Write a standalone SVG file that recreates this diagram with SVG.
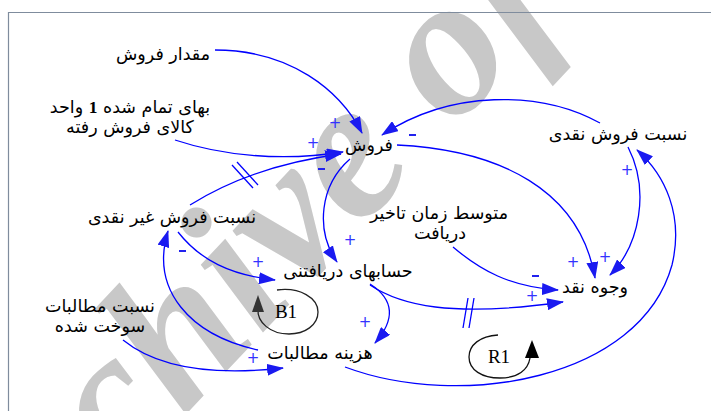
<svg xmlns="http://www.w3.org/2000/svg" width="711" height="411" viewBox="0 0 711 411">
<defs>
<style>
.lbl{font-family:"DejaVu Sans","Noto Sans",sans-serif;font-size:17.5px;fill:#000;text-anchor:middle}
.loop{font-family:"Liberation Serif",serif;font-size:19px;fill:#000;text-anchor:middle}
.c{fill:none;stroke:#0000ff;stroke-width:1.3}
.pl{font-family:"DejaVu Sans",sans-serif;font-size:15px;fill:#3333ff;text-anchor:middle}
.mn{fill:#2222ee}
.dl{stroke:#0000ff;stroke-width:1.3}
.wm{font-family:"Liberation Serif",serif;font-style:italic;font-weight:bold;fill:#c8c8c8}
</style>
<marker id="ah" viewBox="0 0 17 12" refX="16" refY="6" markerWidth="17" markerHeight="12" markerUnits="userSpaceOnUse" orient="auto">
<path d="M0,0 L17,6 L0,12 z" fill="#1a1af0"/>
</marker>
</defs>
<rect width="711" height="411" fill="#fff"/>
<g id="watermark">
<text class="wm" font-size="200" transform="translate(-22,636) rotate(-46.8)">Archive of SID</text>
</g>
<path d="M8.5,411 V12.5 H711" fill="none" stroke="#7f8c9d" stroke-width="1.2"/>
<g id="connectors">
<path class="c" marker-end="url(#ah)" d="M215,50 C290,50 340,90 362,133"/>
<path class="c" marker-end="url(#ah)" d="M175,140 C220,155 280,162 343,152"/>
<path class="c" marker-end="url(#ah)" d="M190,205 C230,180 280,162 341,154"/>
<line class="dl" x1="232" y1="165" x2="253" y2="188"/>
<line class="dl" x1="237" y1="162" x2="258" y2="185"/>
<path class="c" marker-end="url(#ah)" d="M350,159 C320,185 315,230 337,262"/>
<path class="c" marker-end="url(#ah)" d="M600,123 C540,90 450,90 382,135"/>
<path class="c" marker-end="url(#ah)" d="M397,145 C500,150 580,190 595,278"/>
<path class="c" marker-end="url(#ah)" d="M628,147 C650,190 640,245 610,275"/>
<path class="c" marker-end="url(#ah)" d="M345,367 C460,410 640,380 672,265 C684,215 665,175 637,150"/>
<path class="c" marker-end="url(#ah)" d="M370,285 C400,305 450,318 563,302"/>
<line class="dl" x1="468" y1="298" x2="463" y2="328"/>
<line class="dl" x1="474" y1="298" x2="469" y2="328"/>
<path class="c" marker-end="url(#ah)" d="M453,247 C480,270 510,287 558,290"/>
<path class="c" marker-end="url(#ah)" d="M370,284 C395,300 395,320 375,343"/>
<path class="c" marker-end="url(#ah)" d="M178,232 C200,260 230,275 275,280"/>
<path class="c" marker-end="url(#ah)" d="M258,350 C190,335 150,290 168,231"/>
<path class="c" marker-end="url(#ah)" d="M123,340 C160,370 220,375 283,368"/>
</g>
<g id="polarities">
<text class="pl" x="335" y="128">+</text>
<text class="pl" x="313" y="148">+</text>
<rect class="mn" x="318" y="168" width="7" height="2"/>
<text class="pl" x="350" y="245">+</text>
<rect class="mn" x="409" y="134" width="7" height="2"/>
<text class="pl" x="573" y="267">+</text>
<text class="pl" x="605" y="262">+</text>
<text class="pl" x="627" y="175">+</text>
<rect class="mn" x="532" y="275" width="7" height="2"/>
<text class="pl" x="532" y="301">+</text>
<text class="pl" x="365" y="327">+</text>
<rect class="mn" x="179" y="250" width="7" height="2"/>
<text class="pl" x="258" y="267">+</text>
<text class="pl" x="253" y="363">+</text>
</g>
<g id="n_meghdar"><text class="lbl" direction="rtl" x="163" y="60">مقدار فروش</text></g>
<g id="n_baha"><text class="lbl" direction="rtl" x="130" y="113">بهای تمام شده <tspan font-family="Liberation Serif" font-weight="bold">1</tspan> واحد</text>
<text class="lbl" direction="rtl" x="130" y="133">کالای فروش رفته</text></g>
<g id="n_foroosh"><text class="lbl" direction="rtl" x="369" y="151">فروش</text></g>
<g id="n_naghdi"><text class="lbl" direction="rtl" x="618" y="140">نسبت فروش نقدی</text></g>
<g id="n_gheirnaghdi"><text class="lbl" direction="rtl" x="172" y="223">نسبت فروش غیر نقدی</text></g>
<g id="n_motavaset"><text class="lbl" direction="rtl" x="439" y="219">متوسط زمان تاخیر</text>
<text class="lbl" direction="rtl" x="440" y="239">دریافت</text></g>
<g id="n_hesabha"><text class="lbl" direction="rtl" x="348" y="277">حسابهای دریافتنی</text></g>
<g id="n_vojooh"><text class="lbl" direction="rtl" x="595" y="293">وجوه نقد</text></g>
<g id="n_sookht"><text class="lbl" direction="rtl" x="100" y="312">نسبت مطالبات</text>
<text class="lbl" direction="rtl" x="100" y="332">سوخت شده</text></g>
<g id="n_hazine"><text class="lbl" direction="rtl" x="320" y="359">هزینه مطالبات</text></g>
<g id="loop_b1">
<path d="M277,290 C300,287 318,298 318,312 C318,325 305,334 289,334 C270,334 257,322 258,309" fill="none" stroke="#222" stroke-width="1.3"/>
<path d="M252,312 L258,295 L264,312 z" fill="#333"/>
<text class="loop" x="286" y="318">B1</text>
</g>
<g id="loop_r1">
<path d="M498,335 C480,336 469,345 469,357 C469,370 482,378 500,378 C518,378 528,370 530,358" fill="none" stroke="#111" stroke-width="1.3"/>
<path d="M525,358 L532,340 L539,358 z" fill="#000"/>
<text class="loop" x="499" y="363">R1</text>
</g>
</svg>
